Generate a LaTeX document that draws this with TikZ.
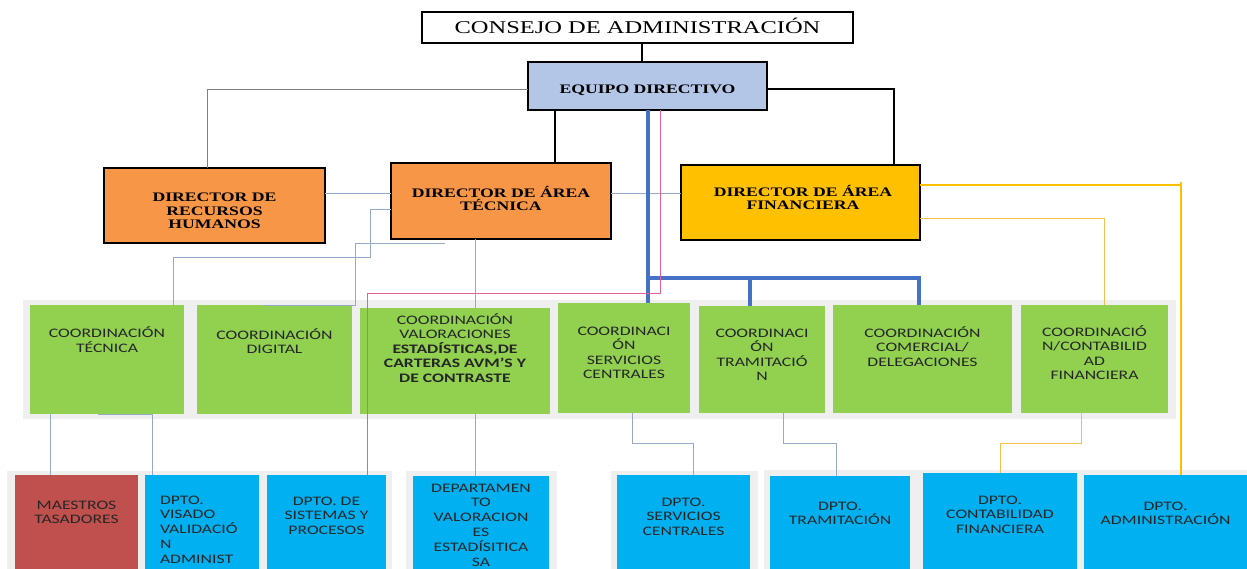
\documentclass[tikz,border=0pt]{standalone}
\usepackage{fontspec}
\newfontfamily\serifS[FakeStretch=1.36]{Liberation Serif}
\newfontfamily\sansS[FakeStretch=1.36]{Carlito}
\definecolor{cgreen}{HTML}{92D050}
\definecolor{cblue}{HTML}{00B0F0}
\definecolor{corange}{HTML}{F79646}
\definecolor{cgold}{HTML}{FFC000}
\definecolor{clblue}{HTML}{B4C6E7}
\definecolor{cred}{HTML}{C0504D}
\definecolor{cpanel}{HTML}{EFEFEF}
\definecolor{cthin}{HTML}{94AACB}
\definecolor{cthick}{HTML}{4472C4}
\definecolor{cpink}{HTML}{E2619B}
\definecolor{cyell}{HTML}{F2C14A}
\definecolor{ctext}{HTML}{262626}
\newcommand{\orgbox}[6]{\node[#6, minimum width=#4-#2, minimum height=#5-#3, anchor=north west] (#1) at (#2,#3) {};}
\begin{document}
\begin{tikzpicture}[x=1pt,y=-1pt,
  every node/.style={inner sep=0pt, outer sep=0pt},
  topbox/.style={draw=black, line width=1.5pt, fill=white},
  eqbox/.style={draw=black, line width=2pt, fill=clblue},
  dirbox/.style={draw=black, line width=2pt, fill=corange},
  finbox/.style={draw=black, line width=2pt, fill=cgold},
  gbox/.style={fill=cgreen},
  bbox/.style={fill=cblue},
  rbox/.style={fill=cred},
  panel/.style={fill=cpanel},
  stxt/.style={font=\serifS\fontsize{18}{20}\selectfont, anchor=base},
  dtxt/.style={font=\serifS\bfseries\fontsize{13}{13.4}\selectfont, align=center, anchor=base},
  gtxt/.style={font=\sansS\fontsize{13}{14.5}\selectfont, text=ctext, align=center, anchor=base},
  btxt/.style={font=\sansS\fontsize{13}{14.8}\selectfont, text=ctext, align=center, anchor=base},
  thinln/.style={draw=cthin, line width=0.8pt},
  grayln/.style={draw=gray, line width=0.8pt},
  blkln/.style={draw=black, line width=1.5pt},
  blueln/.style={draw=cthick, line width=3.4pt},
  pinkln/.style={draw=cpink, line width=0.9pt},
  yelln/.style={draw=cgold, line width=2.4pt},
  yelthinln/.style={draw=cyell, line width=1pt}
]
\fill[white] (0,0) rectangle (1247,569);
\useasboundingbox (0,0) rectangle (1247,569);

% background panels
\fill[panel] (23,300) rectangle (1176,419);
\fill[panel] (7,471) rectangle (392,569);
\fill[panel] (406,471) rectangle (557,569);
\fill[panel] (611,471) rectangle (758,569);
\fill[panel] (764,470) rectangle (1247,569);

% boxes
\orgbox{consejo}{422}{12}{853}{43}{topbox}
\orgbox{equipo}{528}{62}{767}{110}{eqbox}
\orgbox{rrhh}{104}{168}{325}{243}{dirbox}
\orgbox{tec}{391}{163}{611}{239}{dirbox}
\orgbox{fin}{681}{165}{920}{240}{finbox}
\orgbox{ctec}{30}{305}{184}{414}{gbox}
\orgbox{cdig}{197}{305}{352}{414}{gbox}
\orgbox{cval}{360}{308}{550}{414}{gbox}
\orgbox{cserv}{558}{303}{690}{413}{gbox}
\orgbox{ctram}{699}{306}{825}{413}{gbox}
\orgbox{ccom}{833}{305}{1012}{413}{gbox}
\orgbox{ccont}{1021}{305}{1168}{413}{gbox}
\orgbox{maes}{15}{475}{138}{569}{rbox}
\orgbox{visado}{145}{475}{259}{569}{bbox}
\orgbox{sist}{267}{475}{386}{569}{bbox}
\orgbox{depval}{413}{476}{549}{569}{bbox}
\orgbox{dserv}{617}{475}{750}{569}{bbox}
\orgbox{dtram}{770}{476}{910}{569}{bbox}
\orgbox{dcont}{923}{473}{1077}{569}{bbox}
\orgbox{dadm}{1084}{475}{1247}{569}{bbox}

% connectors
\coordinate (t2) at (445,243);
\path[blkln] (642,0 |- consejo.south) -- (642,0 |- equipo.north);
\path[grayln] (equipo.west |- 0,89) -| (207,0 |- rrhh.north);
\path[blkln] (equipo.east |- 0,89) -| (894,0 |- fin.north);
\path[blkln, line width=2pt] (555,0 |- equipo.south) -- (555,0 |- tec.north);
\path[thinln] (rrhh.east |- 0,193) -- (tec.west |- 0,193);
\path[thinln] (tec.east |- 0,193) -- (fin.west |- 0,193);
\path[thinln] (tec.west |- 0,209) -| (370,257) -| (173,0 |- ctec.north);
\path[thinln] (t2) -| (355,305) -- (263,0 |- cdig.north);
\path[thinln] (475,0 |- tec.south) -- (475,0 |- cval.north);
\path[thinln] (475,0 |- cval.south) -- (475,0 |- depval.north);
\path[thinln] (50,0 |- ctec.south) -- (50,0 |- maes.north);
\path[thinln] (98,0 |- ctec.south) -| (152,0 |- visado.north);
\path[thinln] (632,0 |- cserv.south) |- (693,443) -- (693,0 |- dserv.north);
\path[thinln] (783,0 |- ctram.south) |- (836,443) -- (836,0 |- dtram.north);
\path[blueln] (648,0 |- equipo.south) -- (648,0 |- cserv.north);
\path[blueln] (648,278) -| (750,0 |- ctram.north);
\path[blueln] (750,278) -| (919,0 |- ccom.north);
\path[pinkln] (660,0 |- equipo.south) |- (367,293) -- (367,0 |- sist.north);
\path[yelln] (fin.east |- 0,185) -- (1181,185);
\path[yelln] (1181,182) -- (1181,0 |- dadm.north);
\path[yelthinln] (fin.east |- 0,219) -| (1104,0 |- ccont.north);
\path[yelthinln] (1081,0 |- ccont.south) |- (1000,443) -- (1000,0 |- dcont.north);

% texts (anchor=base sits on the last line)
\node[stxt] (consejo-t) at (consejo.north |- 0,33.5) {CONSEJO DE ADMINISTRACIÓN};
\node[dtxt] (equipo-t) at (equipo.north |- 0,94) {EQUIPO DIRECTIVO};
\node[dtxt] (rrhh-t) at (rrhh.north |- 0,228.8) {DIRECTOR DE\\RECURSOS\\HUMANOS};
\node[dtxt] (tec-t) at (tec.north |- 0,210.9) {DIRECTOR DE ÁREA\\TÉCNICA};
\node[dtxt] (fin-t) at (803,209.9) {DIRECTOR DE ÁREA\\FINANCIERA};

\node[gtxt] (ctec-t) at (ctec.north |- 0,352) {COORDINACIÓN\\TÉCNICA};
\node[gtxt] (cdig-t) at (cdig.north |- 0,353.5) {COORDINACIÓN\\DIGITAL};
\node[gtxt] (cval-t) at (cval.north |- 0,382) {COORDINACIÓN\\VALORACIONES\\\textbf{ESTADÍSTICAS,DE}\\\textbf{CARTERAS AVM’S Y}\\\textbf{DE CONTRASTE}};
\node[gtxt] (cserv-t) at (cserv.north |- 0,378.5) {COORDINACI\\ÓN\\SERVICIOS\\CENTRALES};
\node[gtxt] (ctram-t) at (ctram.north |- 0,380.5) {COORDINACI\\ÓN\\TRAMITACIÓ\\N};
\node[gtxt] (ccom-t) at (ccom.north |- 0,366) {COORDINACIÓN\\COMERCIAL/\\DELEGACIONES};
\node[gtxt] (ccont-t) at (ccont.north |- 0,379.5) {COORDINACIÓ\\N/CONTABILID\\AD\\FINANCIERA};

\node[btxt] (maes-t) at (maes.north |- 0,523.8) {MAESTROS\\TASADORES};
\node[btxt, align=left, anchor=base west] (visado-t) at (160,563.2) {DPTO.\\VISADO\\VALIDACIÓ\\N\\ADMINIST};
\node[btxt] (sist-t) at (sist.north |- 0,534.6) {DPTO. DE\\SISTEMAS Y\\PROCESOS};
\node[btxt] (depval-t) at (depval.north |- 0,566) {DEPARTAMEN\\TO\\VALORACION\\ES\\ESTADÍSITICA\\SA};
\node[btxt] (dserv-t) at (dserv.north |- 0,535.6) {DPTO.\\SERVICIOS\\CENTRALES};
\node[btxt] (dtram-t) at (dtram.north |- 0,524.8) {DPTO.\\TRAMITACIÓN};
\node[btxt] (dcont-t) at (dcont.north |- 0,533.6) {DPTO.\\CONTABILIDAD\\FINANCIERA};
\node[btxt] (dadm-t) at (dadm.north |- 0,524.8) {DPTO.\\ADMINISTRACIÓN};
\end{tikzpicture}
\end{document}
